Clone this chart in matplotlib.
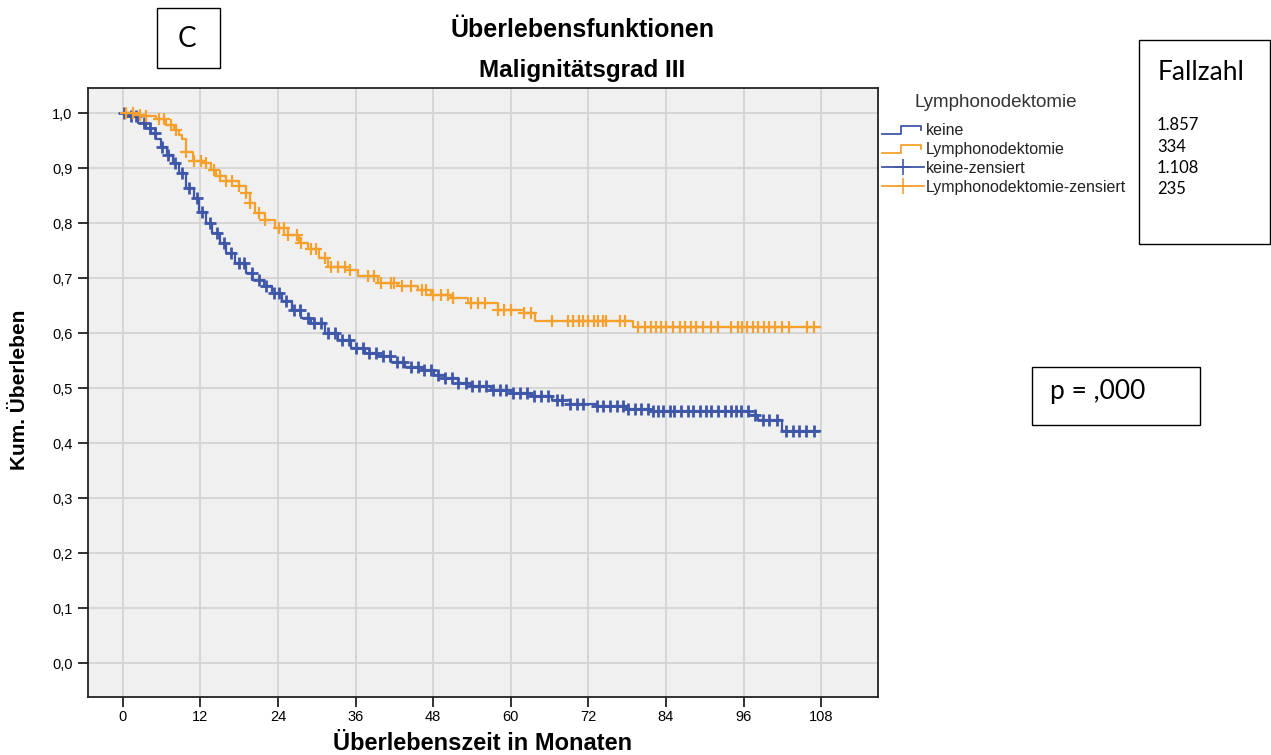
import numpy as np
import matplotlib
matplotlib.use("Agg")
import matplotlib.pyplot as plt
from matplotlib.lines import Line2D
from matplotlib.patches import Rectangle
from matplotlib.legend_handler import HandlerBase

# Kaplan-Meier steps (months, survival after step)
keine_t = [0, 1.0, 2.3, 3.6, 4.4, 5.1, 5.9, 6.9, 7.7, 8.7, 9.7, 11.0, 11.8, 12.8, 13.8,
           15.1, 15.9, 17.4, 19.0, 20.0, 21.8, 23.1, 24.6, 26.2, 27.6, 29.1, 31.2, 33.3,
           35.3, 37.4, 39.5, 41.5, 43.6, 46.2, 48.2, 49.8, 51.8, 53.9, 57.0, 60.1, 63.2,
           66.3, 69.2, 73.3, 77.9, 81.5, 96.9, 98.2, 102.0]
keine_s = [1.0, 0.994, 0.982, 0.973, 0.964, 0.952, 0.939, 0.924, 0.909, 0.891, 0.864,
           0.845, 0.821, 0.8, 0.782, 0.764, 0.745, 0.727, 0.709, 0.697, 0.685, 0.673,
           0.658, 0.642, 0.627, 0.618, 0.6, 0.588, 0.573, 0.564, 0.558, 0.548, 0.539,
           0.533, 0.524, 0.518, 0.509, 0.503, 0.497, 0.491, 0.485, 0.479, 0.472, 0.467,
           0.462, 0.458, 0.452, 0.442, 0.422]
keine_end = 107.9

lymph_t = [0, 2.0, 3.6, 5.1, 6.7, 7.9, 8.7, 9.2, 9.7, 10.8, 12.6, 13.6, 14.4, 15.9, 17.9,
           19.0, 19.7, 20.5, 22.0, 23.6, 25.6, 27.2, 28.7, 30.3, 31.8, 34.4, 36.4, 39.5,
           42.5, 45.6, 47.7, 50.8, 53.4, 58.0, 62.1, 63.7, 78.9]
lymph_s = [1.0, 0.997, 0.994, 0.989, 0.979, 0.97, 0.961, 0.952, 0.93, 0.912, 0.909, 0.897,
           0.885, 0.876, 0.867, 0.855, 0.836, 0.818, 0.806, 0.791, 0.779, 0.764, 0.752,
           0.736, 0.721, 0.715, 0.703, 0.691, 0.685, 0.679, 0.67, 0.664, 0.655, 0.642,
           0.636, 0.622, 0.612]
lymph_end = 107.9

# censored observations (months)
keine_cens = [0.2, 1.2, 2.1, 3.3, 4.2, 5.0, 6.1, 7.0, 8.0, 9.1, 10.2, 11.4, 12.3, 13.5,
              14.6, 15.6, 16.7, 17.9, 18.8, 19.9, 21.0, 22.1, 23.3, 24.2, 25.3, 26.4,
              27.4, 28.6, 29.6, 30.7, 31.8, 32.8, 33.9, 34.9, 36.0, 37.1, 38.1, 39.2,
              40.3, 41.3, 42.4, 43.4, 44.5, 45.6, 46.6, 47.7, 48.7, 49.8, 50.9, 51.9,
              53.0, 54.0, 55.1, 56.2, 57.2, 58.3, 59.3, 60.4, 61.5, 62.5, 63.6, 64.6,
              65.7, 67.1, 67.9, 69.2, 70.2, 71.2, 73.3, 74.3, 75.3, 76.4, 77.4, 78.2,
              79.2, 80.2, 81.3, 82.0, 82.8, 83.6, 84.6, 85.3, 86.4, 87.4, 88.2, 89.2,
              90.2, 91.0, 92.0, 93.1, 94.1, 94.8, 95.6, 96.7, 97.7, 99.0, 100.0, 101.1,
              102.6, 103.6, 104.6, 105.6, 106.9]
lymph_cens = [0.5, 1.5, 2.6, 3.6, 5.6, 6.4, 7.4, 8.2, 9.7, 11.0, 12.1, 12.8, 14.1, 15.1,
              15.9, 16.9, 17.9, 19.0, 19.7, 21.0, 22.0, 24.1, 24.9, 25.6, 27.0, 27.6,
              29.1, 29.9, 31.2, 32.2, 33.3, 34.3, 35.1, 37.9, 38.9, 40.0, 41.5, 42.0,
              43.1, 44.6, 46.2, 46.9, 48.0, 49.2, 50.3, 51.1, 53.9, 54.9, 56.0, 58.0,
              59.0, 60.1, 62.1, 63.2, 66.3, 68.9, 69.7, 70.5, 71.2, 72.0, 72.8, 73.5,
              74.3, 74.8, 76.9, 77.6, 79.7, 80.7, 81.7, 82.5, 83.3, 84.0, 85.1, 86.1,
              86.9, 87.9, 88.7, 89.7, 91.0, 92.0, 94.1, 95.1, 95.8, 96.6, 97.4, 98.2,
              99.2, 99.9, 100.9, 102.0, 103.0, 105.8, 106.9]

legend_labels = ["keine", "Lymphonodektomie", "keine-zensiert", "Lymphonodektomie-zensiert"]
fallzahl = ["1.857", "334", "1.108", "235"]
x_ticks = [0, 12, 24, 36, 48, 60, 72, 84, 96, 108]
y_ticks = [0.0, 0.1, 0.2, 0.3, 0.4, 0.5, 0.6, 0.7, 0.8, 0.9, 1.0]

BLUE = "#3f57a8"
ORANGE = "#f6a02d"
ARIAL = ["Liberation Sans", "DejaVu Sans"]
CALIBRI = ["Lato", "DejaVu Sans"]


def surv_at(times, surv, t):
    idx = np.searchsorted(times, t, side="right") - 1
    return np.asarray(surv)[np.clip(idx, 0, len(surv) - 1)]


class StepHandler(HandlerBase):
    def create_artists(self, legend, orig_handle, xdescent, ydescent, width, height, fontsize, trans):
        w, h = width, height
        xs = np.array([0, 0.45, 0.45, 0.95, 0.95]) * w - xdescent
        ys = np.array([0.1, 0.1, 0.8, 0.8, 0.45]) * h - ydescent
        line = Line2D(xs, ys, color=orig_handle.get_color(), lw=1.3, transform=trans)
        return [line]


fig = plt.figure(figsize=(12.71, 7.55), dpi=100)
ax = fig.add_axes([0.0692, 0.0768, 0.6216, 0.8066])
ax.set_facecolor("#f0f0f0")

for t, s, end, cens, col, mew in [(keine_t, keine_s, keine_end, keine_cens, BLUE, 2.0),
                                  (lymph_t, lymph_s, lymph_end, lymph_cens, ORANGE, 1.6)]:
    ax.step(t + [end], s + [s[-1]], where="post", color=col, lw=1.6, zorder=3)
    ax.plot(cens, surv_at(t, s, cens), ls="none", marker="+", ms=8, mew=mew,
            color=col, zorder=4)

ax.set_xlim(-5.4, 116.8)
ax.set_ylim(-0.0615, 1.0455)
ax.set_xticks(x_ticks)
ax.set_yticks(y_ticks)
ax.set_xticklabels([str(v) for v in x_ticks], fontfamily=ARIAL, fontsize=10.5)
ax.set_yticklabels([f"{v:.1f}".replace(".", ",") for v in y_ticks], fontfamily=ARIAL, fontsize=10.5)
ax.tick_params(axis="x", direction="out", length=7, width=1.3, color="#222222", pad=2)
ax.tick_params(axis="y", direction="out", length=7, width=1.3, color="#222222", pad=4)
ax.grid(True, color="#d4d4d4", lw=1.3, zorder=0)
ax.set_axisbelow(True)
for sp in ax.spines.values():
    sp.set_color("#222222")
    sp.set_linewidth(1.3)

fig.text(582 / 1271, 1 - 30 / 755, "Überlebensfunktionen", ha="center", va="center",
         fontsize=18, fontweight="bold", family=ARIAL)
fig.text(582 / 1271, 1 - 70 / 755, "Malignitätsgrad III", ha="center", va="center",
         fontsize=17.5, fontweight="bold", family=ARIAL)
fig.text(20 / 1271, 1 - 390 / 755, "Kum. Überleben", rotation=90, ha="center", va="center",
         fontsize=15, fontweight="bold", family=ARIAL)
fig.text(483 / 1271, 1 - 744 / 755, "Überlebenszeit in Monaten", ha="center", va="center",
         fontsize=17, fontweight="bold", family=ARIAL)

handles = [Line2D([], [], color=BLUE), Line2D([], [], color=ORANGE),
           Line2D([], [], color=BLUE, marker="+", ms=12, mew=1.2, lw=1.3),
           Line2D([], [], color=ORANGE, marker="+", ms=12, mew=1.2, lw=1.3)]
leg = fig.legend(handles, legend_labels, loc="upper left",
                 bbox_to_anchor=(882 / 1271, 1 - 94 / 755), frameon=False,
                 title="Lymphonodektomie", title_fontproperties={"family": ARIAL, "size": 13.5},
                 prop={"family": ARIAL, "size": 11.5}, handlelength=2.6, handletextpad=0.15,
                 labelspacing=0.25, borderaxespad=0, borderpad=0.0,
                 handler_map={handles[0]: StepHandler(), handles[1]: StepHandler()})
leg._legend_box.align = "left"
leg._legend_box.sep = 8.5
for txt in leg.get_texts():
    txt.set_color("#222222")
leg.get_title().set_color("#333333")
leg.get_title().set_position((33, 0))

# boxes
for (x0, y0, x1, y1) in [(157, 8, 220, 68), (1139, 40, 1270, 244), (1032, 367, 1200, 425)]:
    fig.patches.append(Rectangle((x0 / 1271, 1 - y1 / 755), (x1 - x0) / 1271, (y1 - y0) / 755,
                                 transform=fig.transFigure, fill=False, ec="black", lw=1.0))
fig.text(187 / 1271, 1 - 39 / 755, "C", ha="center", va="center", fontsize=20, family=CALIBRI)
fig.text(1158 / 1271, 1 - 73 / 755, "Fallzahl", ha="left", va="center", fontsize=19, family=CALIBRI)
for i, val in enumerate(fallzahl):
    fig.text(1157 / 1271, 1 - (125 + i * 21.5) / 755, val, ha="left", va="center",
             fontsize=12, family=CALIBRI)
fig.text(1050 / 1271, 1 - 391 / 755, "p = ,000", ha="left", va="center", fontsize=19, family=CALIBRI)

fig.savefig("out.png", dpi=100, facecolor="white")
